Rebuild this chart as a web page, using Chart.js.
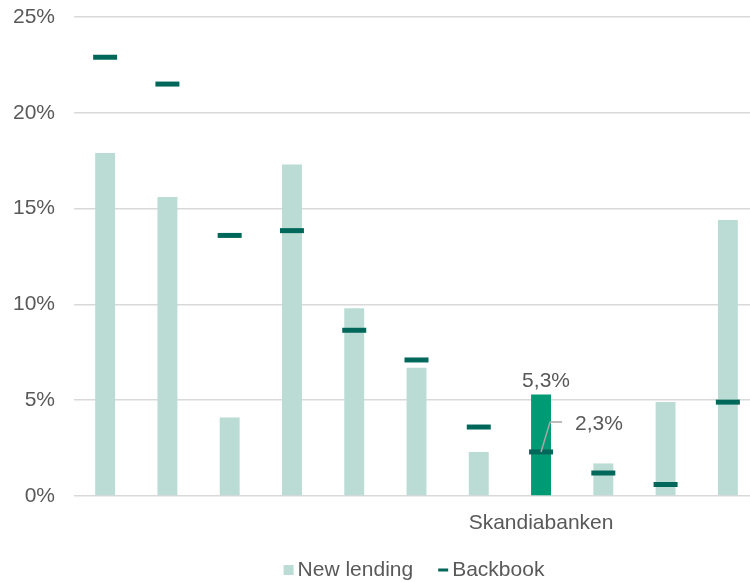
<!DOCTYPE html>
<html>
<head>
<meta charset="utf-8">
<script src="https://cdn.jsdelivr.net/npm/chart.js@4/dist/chart.umd.min.js"></script>
<style>
  html, body { margin: 0; padding: 0; background: #fff; overflow: hidden; }
  #wrap { width: 750px; height: 582px; overflow: hidden; }
</style>
</head>
<body>
<div id="wrap"><canvas id="lendChart" width="776" height="582"></canvas></div>
<script>
// banks, only our own is named on the axis
const banks = ['', '', '', '', '', '', '', 'Skandiabanken', '', '', ''];
const newLending = [17.9, 15.6, 4.1, 17.3, 9.8, 6.7, 2.3, 5.3, 1.7, 4.9, 14.4];
const backbook = [22.9, 21.5, 13.6, 13.85, 8.65, 7.1, 3.6, 2.3, 1.2, 0.6, 4.9];
const yTicks = [0, 5, 10, 15, 20, 25];
const highlight = 7;

const font = 'Liberation Sans, Arial, sans-serif';
const textGrey = '#595959';
const lightGreen = '#badcd4';
const darkGreen = '#00685a';
const fmt = v => v.toFixed(1).replace('.', ',') + '%';

// value labels for the highlighted bank
const labelPlugin = {
    id: 'bankLabels',
    afterDatasetsDraw(chart) {
        const ctx = chart.ctx;
        const x = chart.scales.x.getPixelForValue(highlight);
        const yBar = chart.scales.y.getPixelForValue(newLending[highlight]);
        const yDash = chart.scales.y.getPixelForValue(backbook[highlight]);
        ctx.save();
        ctx.font = '21px ' + font;
        ctx.fillStyle = textGrey;
        ctx.textAlign = 'center';
        ctx.textBaseline = 'alphabetic';
        ctx.fillText(fmt(newLending[highlight]), x + 5, yBar - 7);

        // leader line to backbook label
        ctx.strokeStyle = '#a6a6a6';
        ctx.lineWidth = 1.5;
        ctx.beginPath();
        ctx.moveTo(x, yDash);
        ctx.lineTo(x + 9, yDash - 30);
        ctx.lineTo(x + 21, yDash - 30);
        ctx.stroke();

        ctx.textAlign = 'left';
        ctx.textBaseline = 'middle';
        ctx.fillText(fmt(backbook[highlight]), x + 34, yDash - 28);
        ctx.restore();
    }
};

// compact legend under the axis: small square for bars, short dash for backbook
const legendPlugin = {
    id: 'compactLegend',
    afterDraw(chart) {
        const ctx = chart.ctx;
        const items = [
            { text: 'New lending', color: lightGreen, square: true },
            { text: 'Backbook', color: darkGreen, square: false }
        ];
        const mark = 10, gap = 4, spacing = 25, cy = 570;
        ctx.save();
        ctx.font = '21px ' + font;
        ctx.textBaseline = 'middle';
        ctx.textAlign = 'left';
        const widths = items.map(it => ctx.measureText(it.text).width);
        const total = widths.reduce((s, w) => s + mark + gap + w, 0) + spacing * (items.length - 1);
        let x = 414 - total / 2;
        items.forEach((it, i) => {
            ctx.fillStyle = it.color;
            if (it.square) ctx.fillRect(x, cy - 5, mark, mark);
            else ctx.fillRect(x, cy - 1.5, mark, 3);
            ctx.fillStyle = textGrey;
            ctx.fillText(it.text, x + mark + gap, cy);
            x += mark + gap + widths[i] + spacing;
        });
        ctx.restore();
    }
};

const ctx = document.getElementById('lendChart').getContext('2d');
new Chart(ctx, {
    data: {
        labels: banks,
        datasets: [{
            type: 'line',
            label: 'Backbook',
            data: backbook,
            showLine: false,
            pointStyle: 'line',
            pointRadius: 12,
            pointHoverRadius: 12,
            pointBorderWidth: 5,
            pointHoverBorderWidth: 5,
            pointBorderColor: darkGreen,
            pointBackgroundColor: darkGreen,
            borderColor: darkGreen,
            order: 0
        }, {
            type: 'bar',
            label: 'New lending',
            data: newLending,
            backgroundColor: banks.map((b, i) => i === highlight ? '#009a75' : lightGreen),
            barPercentage: 0.64,
            categoryPercentage: 0.5,
            order: 1
        }]
    },
    options: {
        responsive: false,
        animation: false,
        layout: { padding: { left: 10, top: 16, right: 1, bottom: 46 } },
        plugins: {
            tooltip: { enabled: false },
            legend: { display: false }
        },
        scales: {
            x: {
                grid: { display: false },
                border: { display: false },
                ticks: {
                    font: { family: font, size: 21 },
                    color: textGrey,
                    maxRotation: 0,
                    autoSkip: false,
                    padding: 7
                },
                afterFit(axis) {
                    axis.height = 40;
                    axis.paddingLeft = 0;
                    axis.paddingRight = 0;
                }
            },
            y: {
                min: 0,
                max: 25,
                afterBuildTicks(axis) { axis.ticks = yTicks.map(v => ({ value: v })); },
                grid: { color: '#d9d9d9', lineWidth: 1.5, drawTicks: false },
                border: { display: false },
                ticks: {
                    font: { family: font, size: 21 },
                    color: textGrey,
                    padding: 19,
                    callback: v => v + '%'
                },
                afterFit(axis) {
                    axis.width = 64;
                    axis.paddingTop = 0;
                    axis.paddingBottom = 0;
                }
            }
        }
    },
    plugins: [labelPlugin, legendPlugin]
});
</script>
</body>
</html>
